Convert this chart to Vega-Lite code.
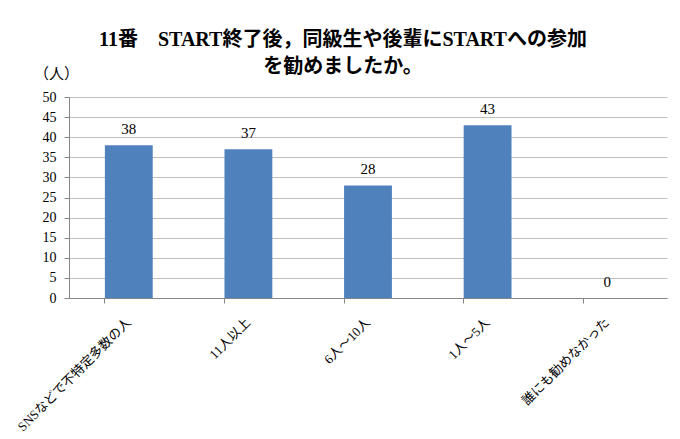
{
  "$schema": "https://vega.github.io/schema/vega-lite/v6.json",
  "autosize": {"type": "none"},
  "padding": {"left": 69, "top": 97, "right": 13, "bottom": 141},
  "width": 598,
  "height": 201,
  "background": "white",
  "title": {
    "text": ["11番　START終了後，同級生や後輩にSTARTへの参加", "を勧めましたか。"],
    "font": "Liberation Serif, Noto Sans CJK JP",
    "fontSize": 20,
    "fontWeight": "bold",
    "color": "#000000",
    "lineHeight": 27,
    "anchor": "middle",
    "dx": -25,
    "dy": 31,
    "offset": 20
  },
  "config": {
    "view": {"stroke": null},
    "font": "Liberation Serif, Noto Sans CJK JP"
  },
  "data": {
    "values": [
      {"category": "SNSなどで不特定多数の人", "value": 38},
      {"category": "11人以上", "value": 37},
      {"category": "6人～10人", "value": 28},
      {"category": "1人～5人", "value": 43},
      {"category": "誰にも勧めなかった", "value": 0}
    ]
  },
  "encoding": {
    "x": {
      "field": "category",
      "type": "nominal",
      "sort": null,
      "scale": {"paddingInner": 0.6, "paddingOuter": 0.3},
      "axis": {
        "title": null,
        "labelAngle": -45,
        "labelAlign": "right",
        "labelBaseline": "middle",
        "labelFont": "Liberation Serif, Noto Sans CJK JP",
        "labelFontSize": 13,
        "labelColor": "#000000",
        "labelPadding": 17,
        "labelLimit": 300,
        "domainColor": "#868686",
        "tickColor": "#868686",
        "tickSize": 5,
        "bandPosition": 0,
        "grid": false
      }
    },
    "y": {
      "field": "value",
      "type": "quantitative",
      "scale": {"domain": [0, 50]},
      "axis": {
        "values": [0, 5, 10, 15, 20, 25, 30, 35, 40, 45, 50],
        "title": "（人）",
        "titleAngle": 0,
        "titleAlign": "center",
        "titleBaseline": "middle",
        "titleX": -13,
        "titleY": -24,
        "titleFont": "Liberation Serif, Noto Sans CJK JP",
        "titleFontSize": 15,
        "titleFontWeight": "normal",
        "titleColor": "#000000",
        "labelFont": "Liberation Serif, Noto Sans CJK JP",
        "labelFontSize": 14,
        "labelColor": "#000000",
        "labelPadding": 8,
        "domainColor": "#868686",
        "tickColor": "#868686",
        "tickSize": 5,
        "gridColor": "#BFBFBF",
        "gridOpacity": 1
      }
    }
  },
  "layer": [
    {"mark": {"type": "bar", "color": "#4F81BD"}},
    {
      "mark": {
        "type": "text",
        "baseline": "bottom",
        "dy": -8,
        "fontSize": 15,
        "color": "#000000",
        "font": "Liberation Serif, Noto Sans CJK JP"
      },
      "encoding": {"text": {"field": "value", "type": "quantitative"}}
    }
  ]
}
